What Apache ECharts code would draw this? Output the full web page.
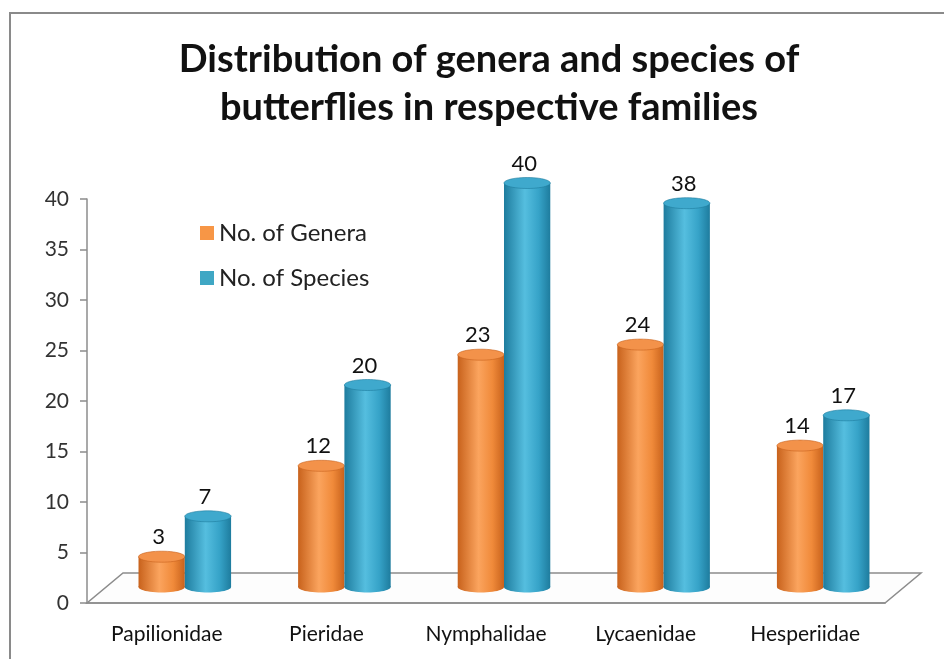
<!DOCTYPE html>
<html>
<head>
<meta charset="utf-8">
<script src="https://cdn.jsdelivr.net/npm/echarts@6/dist/echarts.min.js"></script>
<style>
  html, body { margin: 0; padding: 0; background: #fff; }
  #chart { width: 944px; height: 659px; }
</style>
</head>
<body>
<div id="chart"></div>
<script>
var families = ['Papilionidae', 'Pieridae', 'Nymphalidae', 'Lycaenidae', 'Hesperiidae'];
var genera = [3, 12, 23, 24, 14];
var species = [7, 20, 40, 38, 17];
var yTicks = { min: 0, max: 40, interval: 5 };

// plot box (front face) and the 3d depth shift of the bars
var plot = { left: 87, top: 199, right: 885, bottom: 603 };
var depth = { dx: 36, dy: -30 };
var shift = { dx: 18, dy: -16 };

var W = 944, H = 659;

function cylinder(side, dark, mid, light, top) {
  return function (params, api) {
    var cat = api.value(0);
    var val = api.value(1);
    var band = api.size([1, 0])[0];
    var w = band * 0.29;
    var p = api.coord([cat, val]);
    var b = api.coord([cat, 0]);
    var cx = p[0] + side * w / 2;
    var rx = w / 2, ry = 5.5;
    var grad = new echarts.graphic.LinearGradient(0, 0, 1, 0, [
      { offset: 0, color: dark },
      { offset: 0.45, color: light },
      { offset: 0.75, color: mid },
      { offset: 1, color: dark }
    ]);
    function ell(cy) {
      var pts = [];
      for (var i = 0; i < 48; i++) {
        var a = i / 48 * Math.PI * 2;
        pts.push([cx + rx * Math.cos(a), cy + ry * Math.sin(a)]);
      }
      return pts;
    }
    return {
      type: 'group',
      children: [
        { type: 'polygon', shape: { points: ell(b[1]) }, style: { fill: grad } },
        { type: 'rect', shape: { x: cx - rx, y: p[1], width: w, height: b[1] - p[1] }, style: { fill: grad } },
        { type: 'polygon', shape: { points: ell(p[1]) }, style: { fill: top, stroke: dark, lineWidth: 0.6 } },
        {
          type: 'text',
          x: cx - 3,
          y: p[1] - ry - 3,
          style: {
            text: String(val),
            fontFamily: 'Lato',
            fontSize: 22,
            fill: '#111',
            align: 'center',
            verticalAlign: 'bottom'
          }
        }
      ]
    };
  };
}

var chart = echarts.init(document.getElementById('chart'));

chart.setOption({
  backgroundColor: '#fff',
  animation: false,
  title: {
    text: 'Distribution of genera and species of\nbutterflies in respective families',
    left: 484,
    top: 31,
    textAlign: 'center',
    textStyle: {
      fontFamily: 'Lato',
      fontWeight: 'bold',
      fontSize: 38,
      lineHeight: 48,
      color: '#111'
    }
  },
  legend: {
    orient: 'vertical',
    left: 195,
    top: 216,
    itemWidth: 14,
    itemHeight: 14,
    itemGap: 21,
    itemStyle: { borderWidth: 0 },
    icon: 'rect',
    data: ['No. of Genera', 'No. of Species'],
    textStyle: { fontFamily: 'Lato', fontSize: 24, color: '#222' }
  },
  grid: [
    {
      left: plot.left, top: plot.top,
      width: plot.right - plot.left, height: plot.bottom - plot.top
    },
    {
      left: plot.left + shift.dx, top: plot.top + shift.dy,
      width: plot.right - plot.left, height: plot.bottom - plot.top
    }
  ],
  xAxis: [
    {
      type: 'category',
      gridIndex: 0,
      data: families,
      axisLine: { lineStyle: { color: '#8c8c8c', width: 1.5 } },
      axisTick: { length: 7, lineStyle: { color: '#8c8c8c', width: 1.5 } },
      axisLabel: { interval: 0, margin: 21, fontFamily: 'Lato', fontSize: 21, color: '#111' }
    },
    {
      type: 'category',
      gridIndex: 1,
      data: families,
      show: false
    }
  ],
  yAxis: [
    {
      type: 'value',
      gridIndex: 0,
      min: yTicks.min, max: yTicks.max, interval: yTicks.interval,
      axisLine: { show: true, lineStyle: { color: '#8c8c8c', width: 1.5 } },
      axisTick: { show: true, length: 7, lineStyle: { color: '#8c8c8c', width: 1.5 } },
      splitLine: { show: false },
      axisLabel: { margin: 18, fontFamily: 'Lato', fontSize: 21, color: '#333' }
    },
    {
      type: 'value',
      gridIndex: 1,
      min: yTicks.min, max: yTicks.max, interval: yTicks.interval,
      show: false,
      splitLine: { show: false }
    }
  ],
  series: [
    {
      name: 'No. of Genera',
      type: 'custom',
      xAxisIndex: 1, yAxisIndex: 1,
      itemStyle: { color: '#F79646' },
      renderItem: cylinder(-1, '#C8621C', '#F08A3A', '#FBA45E', '#F3924A'),
      encode: { x: 0, y: 1 },
      data: genera.map(function (v, i) { return [i, v]; }),
      z: 5
    },
    {
      name: 'No. of Species',
      type: 'custom',
      xAxisIndex: 1, yAxisIndex: 1,
      itemStyle: { color: '#3FA7C4' },
      renderItem: cylinder(1, '#1E7C9E', '#36A3C8', '#55BEDF', '#3FA9CD'),
      encode: { x: 0, y: 1 },
      data: species.map(function (v, i) { return [i, v]; }),
      z: 5
    }
  ],
  graphic: [
    {
      type: 'rect',
      z: -10,
      shape: { x: 10, y: 13, width: W, height: H },
      style: { fill: 'none', stroke: '#8a8a8a', lineWidth: 2 }
    },
    {
      type: 'polygon',
      z: -5,
      shape: {
        points: [
          [plot.left, plot.bottom],
          [plot.right, plot.bottom],
          [plot.right + depth.dx, plot.bottom + depth.dy],
          [plot.left + depth.dx, plot.bottom + depth.dy]
        ]
      },
      style: { fill: '#fdfdfd', stroke: '#8c8c8c', lineWidth: 1.5 }
    }
  ]
});
</script>
</body>
</html>
